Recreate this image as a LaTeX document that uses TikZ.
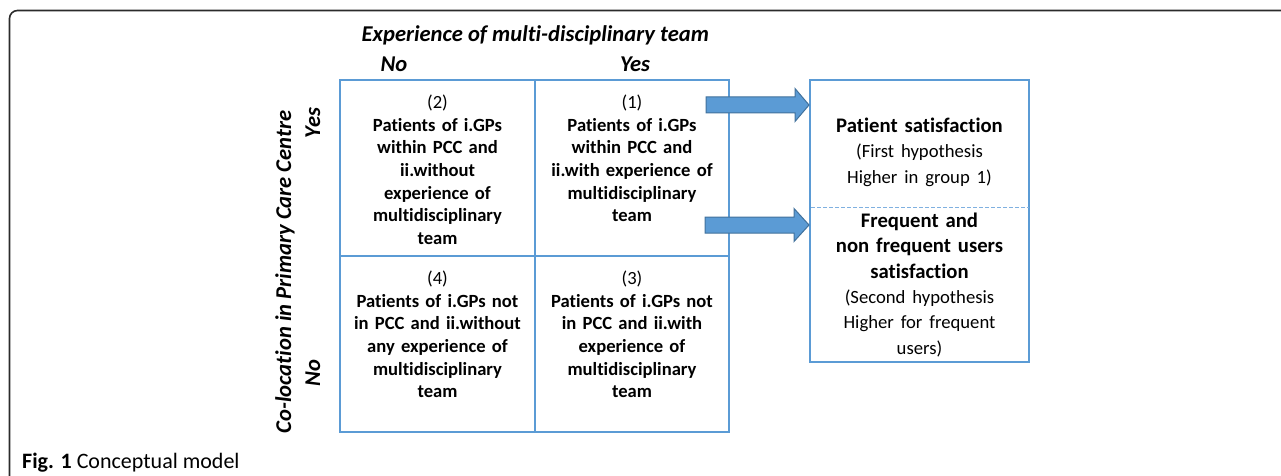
\documentclass[tikz,border=0pt]{standalone}
\usepackage{fontspec}
\setmainfont[Ligatures={NoCommon,NoContextual}]{Carlito}
\usetikzlibrary{calc}
\definecolor{cellblue}{HTML}{5B9BD5}
\definecolor{arrowfill}{HTML}{5B9BD5}
\definecolor{arrowedge}{HTML}{41719C}
\definecolor{dashblue}{HTML}{7FB0E0}
\definecolor{framegray}{HTML}{2B2B2B}
\begin{document}
\begin{tikzpicture}[x=1pt,y=-1pt,
  cellbox/.style={draw=cellblue, line width=2pt, inner sep=0pt, minimum width=194.5pt, minimum height=176pt},
  rightbox/.style={draw=cellblue, line width=2pt, inner sep=0pt, minimum width=219pt, minimum height=282pt},
  celltext/.style={anchor=north, inner sep=0pt, text width=192pt, align=center, font=\fontsize{18.6}{22.6}\selectfont\bfseries},
  rtext/.style={anchor=north, inner sep=0pt, text width=215pt, align=center, font=\fontsize{20.7}{25.3}\selectfont\bfseries},
  hdr/.style={inner sep=0pt, anchor=base, font=\fontsize{22.6}{26}\selectfont\bfseries\itshape},
  blockarrow/.style={fill=arrowfill, draw=arrowedge, line width=1pt, line join=miter},
  dashsep/.style={draw=dashblue, line width=1.2pt, dash pattern=on 3.5pt off 2.5pt},
  frameline/.style={draw=framegray, line width=1.6pt, rounded corners=8pt},
  caption/.style={inner sep=0pt, anchor=base west, font=\fontsize{22}{26}\selectfont}
]
\useasboundingbox (0,0) rectangle (1281,476);
\begin{scope}
  \clip (0,0) rectangle (1281,476);
  \draw[frameline] (9.5,490) -- (9.5,10.5) -- (1295,10.5);
\end{scope}

% grid cells
\node[cellbox] (c2) at (437.5,168) {};
\node[cellbox] (c1) at (632,168) {};
\node[cellbox] (c4) at (437.5,344) {};
\node[cellbox] (c3) at (632,344) {};

% cell texts
\node[celltext] (t2) at ($(c2.north)+(0,13.7)$) {\strut{\mdseries (2)}\\ Patients of i.GPs\\ within PCC and\\ ii.without\\ experience of\\ multidisciplinary\\ team};
\node[celltext] (t1) at ($(c1.north)+(0,13.7)$) {\strut{\mdseries (1)}\\ Patients of i.GPs\\ within PCC and\\ ii.with experience of\\ multidisciplinary\\ team};
\node[celltext] (t4) at ($(c4.north)+(0,13.6)$) {\strut{\mdseries (4)}\\ Patients of i.GPs not\\ in PCC and ii.without\\ any experience of\\ multidisciplinary\\ team};
\node[celltext] (t3) at ($(c3.north)+(0,13.6)$) {\strut{\mdseries (3)}\\ Patients of i.GPs not\\ in PCC and ii.with\\ experience of\\ multidisciplinary\\ team};

% headers
\node[hdr] (hx) at (535.3,42) {Experience of multi-disciplinary team};
\node[hdr] (hno) at (394,72) {No};
\node[hdr] (hyes) at (635,72) {Yes};
\node[hdr, rotate=90] (hy) at (291,272) {Co-location in Primary Care Centre};
\node[hdr, rotate=90] (hyyes) at (320,123) {Yes};
\node[hdr, rotate=90] (hyno) at (320,373) {No};

% right box
\node[rightbox] (rbox) at (919.5,221) {};
\coordinate (dl) at (919.5,207.5);
\draw[dashsep] ($(rbox.west|-dl)+(2,0)$) -- ($(rbox.east|-dl)+(-1,0)$);
\node[rtext] (r1) at ($(rbox.north)+(0,35.7)$) {\strut Patient satisfaction\\ \fontsize{18.67}{25.3}\selectfont\mdseries (First hypothesis\\ Higher in group 1)};
\node[rtext] (r2) at ($(rbox.north)+(0,130.7)$) {\strut Frequent and\\ non frequent users\\ satisfaction\\ \fontsize{18.67}{25.3}\selectfont\mdseries (Second hypothesis\\ Higher for frequent\\ users)};

% block arrows
\coordinate (a1s) at (706,105);
\coordinate (a1e) at (rbox.west |- a1s);
\draw[blockarrow] ($(a1s)+(0,-8)$) -- ($(a1e)+(-14,-8)$) -- ($(a1e)+(-14,-16.5)$) -- (a1e) -- ($(a1e)+(-14,16.5)$) -- ($(a1e)+(-14,8)$) -- ($(a1s)+(0,8)$) -- cycle;
\coordinate (a2s) at (705,225);
\coordinate (a2e) at (rbox.west |- a2s);
\draw[blockarrow] ($(a2s)+(0,-8)$) -- ($(a2e)+(-15,-8)$) -- ($(a2e)+(-15,-16.5)$) -- (a2e) -- ($(a2e)+(-15,16.5)$) -- ($(a2e)+(-15,8)$) -- ($(a2s)+(0,8)$) -- cycle;

% caption
\node[caption] (cap) at (22,468) {\textbf{Fig. 1} Conceptual model};
\end{tikzpicture}
\end{document}
